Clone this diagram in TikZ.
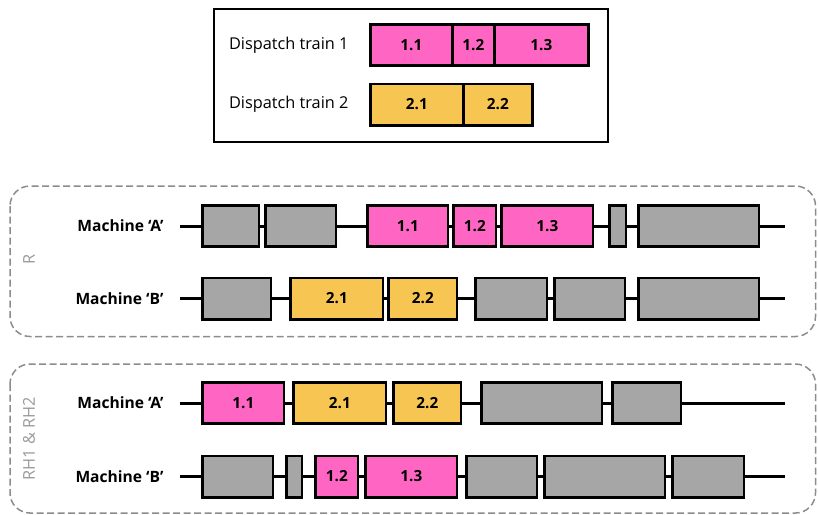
\documentclass[tikz,border=0pt]{standalone}
\usepackage{fontspec}
\setmainfont{Open Sans}
\usetikzlibrary{positioning}
\definecolor{cTrainA}{HTML}{FF66C4}
\definecolor{cTrainB}{HTML}{F7C652}
\definecolor{cIdle}{HTML}{A6A6A6}
\definecolor{cFrame}{HTML}{8C8C8C}
\definecolor{cTag}{HTML}{9A9A9A}

\begin{document}
\begin{tikzpicture}[
  x=1pt,y=-1pt,
  font=\fontsize{16.3}{19}\selectfont,
  job/.style={draw=black,line width=2.8pt,minimum height=41.2pt,inner sep=0pt,
              anchor=west,font=\fontsize{15.3}{18}\selectfont\bfseries},
  rail/.style={line width=3pt,color=black},
  frame/.style={line width=1.5pt,color=cFrame,dash pattern=on 7pt off 3.5pt,rounded corners=20pt},
  mach/.style={font=\fontsize{15.6}{18}\selectfont\bfseries,anchor=east},
  tag/.style={color=cTag,rotate=90},
]
\useasboundingbox (0,0) rectangle (818,514);

% ============================================================ legend
\node[draw=black,line width=2pt,minimum width=394pt,minimum height=133pt,inner sep=0pt]
  (legend) at (411,75.5) {};
\node[anchor=east] (trainA) at (352,45) {Dispatch train 1};
\node[anchor=east] (trainB) at (352,104.5) {Dispatch train 2};
\foreach \n/\l/\r/\t in {1/369/451/1.1,2/451/493/1.2,3/493/587/1.3}
  \node[job,fill=cTrainA,minimum width={(\r-\l)*1pt}] (lgA\n) at (\l,45) {\t};
\foreach \n/\l/\r/\t in {1/369/462/2.1,2/462/531/2.2}
  \node[job,fill=cTrainB,minimum width={(\r-\l)*1pt}] (lgB\n) at (\l,104.5) {\t};

% ============================================================ R
\draw[frame] (10,186) rectangle (815.5,336.5);
\node[tag] (tagR) at (29,259) {R};

% machine A
\node[mach] (rA) at (167,226) {Machine `A'};
\coordinate (rA-s) at (180,226);
\coordinate (rA-e) at (785,226);
\draw[rail] (rA-s) -- (rA-e);
\foreach \n/\l/\r/\c/\t in {1/200/259/cIdle/{},2/263/336/cIdle/{},3/365/448/cTrainA/1.1,
    4/451/496/cTrainA/1.2,5/499/593/cTrainA/1.3,6/607/626/cIdle/{},7/636/759/cIdle/{}}
  \node[job,fill=\c,minimum width={(\r-\l-2.8)*1pt}] (rA\n) at ({\l+1.4},226) {\t};

% machine B
\node[mach] (rB) at (167,298.5) {Machine `B'};
\coordinate (rB-s) at (180,298.5);
\coordinate (rB-e) at (785,298.5);
\draw[rail] (rB-s) -- (rB-e);
\foreach \n/\l/\r/\c/\t in {1/200/271/cIdle/{},2/288/383/cTrainB/2.1,3/386/457/cTrainB/2.2,
    4/473/547/cIdle/{},5/552/625/cIdle/{},6/636/759/cIdle/{}}
  \node[job,fill=\c,minimum width={(\r-\l-2.8)*1pt}] (rB\n) at ({\l+1.4},298.5) {\t};

% ============================================================ RH1 & RH2
\draw[frame] (10,364) rectangle (815.5,513);
\node[tag] (tagRH) at (29,439) {RH1 \& RH2};

% machine A
\node[mach] (hA) at (167,403) {Machine `A'};
\coordinate (hA-s) at (180,403);
\coordinate (hA-e) at (785,403);
\draw[rail] (hA-s) -- (hA-e);
\foreach \n/\l/\r/\c/\t in {1/200/284/cTrainA/1.1,2/291/386/cTrainB/2.1,3/391/461/cTrainB/2.2,
    4/479/602/cIdle/{},5/610/681/cIdle/{}}
  \node[job,fill=\c,minimum width={(\r-\l-2.8)*1pt}] (hA\n) at ({\l+1.4},403) {\t};

% machine B
\node[mach] (hB) at (167,476.5) {Machine `B'};
\coordinate (hB-s) at (180,476.5);
\coordinate (hB-e) at (785,476.5);
\draw[rail] (hB-s) -- (hB-e);
\foreach \n/\l/\r/\c/\t in {1/200/273/cIdle/{},2/284/302/cIdle/{},3/313/358/cTrainA/1.2,
    4/363/457/cTrainA/1.3,5/464/537/cIdle/{},6/542/665/cIdle/{},7/670/744/cIdle/{}}
  \node[job,fill=\c,minimum width={(\r-\l-2.8)*1pt}] (hB\n) at ({\l+1.4},476.5) {\t};

\end{tikzpicture}
\end{document}
